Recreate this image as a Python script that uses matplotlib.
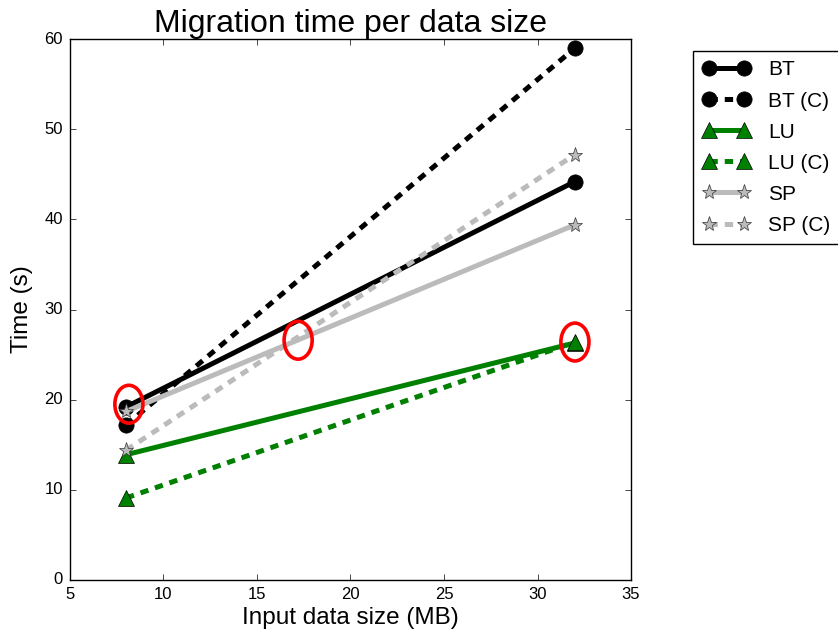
import matplotlib
matplotlib.use("Agg")
import matplotlib.pyplot as plt
from matplotlib.patches import Ellipse

plt.style.use('classic')
plt.rcParams['font.family'] = ['Liberation Sans', 'DejaVu Sans']

sizes = [8, 32]
bt = [19.2, 44.2]
bt_c = [17.2, 59.0]
lu = [13.9, 26.3]
lu_c = [9.1, 26.4]
sp = [18.7, 39.4]
sp_c = [14.4, 47.2]

# highlighted points (x, y)
marks = [(8.15, 19.5), (17.2, 26.6), (32.0, 26.4)]

fig = plt.figure(figsize=(8.38, 6.37), dpi=100, facecolor='white')
ax = fig.add_axes([0.0835, 0.0895, 0.6695, 0.849])

lw = 3.6
ms = 11
dash = (6, 5)
ax.plot(sizes, bt, color='black', lw=lw, marker='o', markersize=ms, label='BT')
ax.plot(sizes, bt_c, color='black', lw=lw, ls='--', dashes=dash, marker='o', markersize=ms, label='BT (C)')
ax.plot(sizes, lu, color='green', lw=lw, marker='^', markersize=ms, label='LU')
ax.plot(sizes, lu_c, color='green', lw=lw, ls='--', dashes=dash, marker='^', markersize=ms, label='LU (C)')
ax.plot(sizes, sp, color='#bbbbbb', lw=lw, marker='*', markersize=ms,
        markeredgecolor='#333333', label='SP')
ax.plot(sizes, sp_c, color='#bbbbbb', lw=lw, ls='--', dashes=dash, marker='*', markersize=ms,
        markeredgecolor='#333333', label='SP (C)')

for mx, my in marks:
    ax.add_patch(Ellipse((mx, my), 1.5, 4.2, fill=False, edgecolor='red', lw=2.6, zorder=5))

ax.set_xlim(5, 35)
ax.set_ylim(0, 60)
ax.tick_params(labelsize=12, pad=5)
ax.set_title('Migration time per data size', fontsize=23, pad=5)
ax.set_xlabel('Input data size (MB)', fontsize=17.5, labelpad=4)
ax.set_ylabel('Time (s)', fontsize=17.5, labelpad=8)

ax.legend(loc='upper left', bbox_to_anchor=(1.1105, 0.978), fontsize=15, numpoints=2,
          handlelength=2.3, handletextpad=0.85, borderpad=0.45, labelspacing=0.58,
          borderaxespad=0, fancybox=False, frameon=True)

fig.savefig('out.png', dpi=100, facecolor='white')
